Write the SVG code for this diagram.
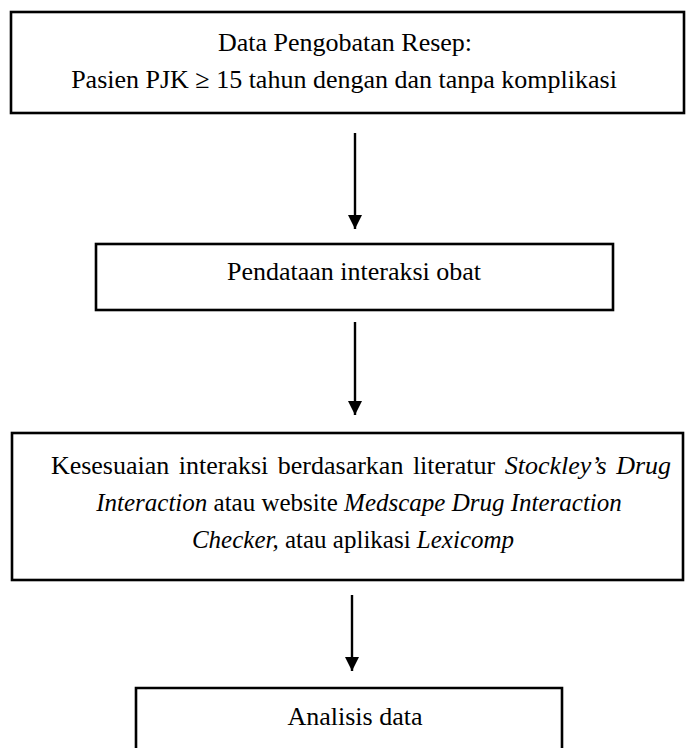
<svg xmlns="http://www.w3.org/2000/svg" width="697" height="748" viewBox="0 0 697 748">
<defs>
<marker id="ah" viewBox="0 0 14 16" refX="14" refY="7" markerWidth="14" markerHeight="16" markerUnits="userSpaceOnUse" orient="auto">
<path d="M0,0 L14,7 L0,14 Z" fill="#000"/>
</marker>
<style>
.box{fill:#fff;stroke:#000;stroke-width:2.6}
.t{font-family:"Liberation Serif","Times New Roman",serif;font-size:26px;fill:#000;text-anchor:middle}
.s{font-size:25px}
.i{font-style:italic}
.c{stroke:#000;stroke-width:2.4;fill:none}
</style>
</defs>
<rect width="697" height="748" fill="#fff"/>
<g id="n1">
<rect class="box" x="11" y="12" width="673" height="101"/>
<text class="t" x="345" y="51">Data Pengobatan Resep:</text>
<text class="t" x="344" y="88">Pasien PJK ≥ 15 tahun dengan dan tanpa komplikasi</text>
</g>
<g id="n2">
<rect class="box" x="96" y="244" width="517" height="66"/>
<text class="t" x="354" y="280">Pendataan interaksi obat</text>
</g>
<g id="n3">
<rect class="box" x="12" y="433" width="671" height="147"/>
<text class="t" x="361" y="474" word-spacing="3">Kesesuaian interaksi berdasarkan literatur <tspan class="i">Stockley’s Drug</tspan></text>
<text class="t s" x="359" y="511"><tspan class="i">Interaction</tspan> atau website <tspan class="i">Medscape Drug Interaction</tspan></text>
<text class="t s" x="353" y="548"><tspan class="i">Checker,</tspan> atau aplikasi <tspan class="i">Lexicomp</tspan></text>
</g>
<g id="n4">
<path class="box" d="M136,760 L136,688 L562,688 L562,760"/>
<text class="t" x="355" y="725">Analisis data</text>
</g>
<g id="connectors">
<line class="c" x1="355" y1="133" x2="355" y2="229" marker-end="url(#ah)"/>
<line class="c" x1="355" y1="322" x2="355" y2="415" marker-end="url(#ah)"/>
<line class="c" x1="352" y1="595" x2="352" y2="671" marker-end="url(#ah)"/>
</g>
</svg>
